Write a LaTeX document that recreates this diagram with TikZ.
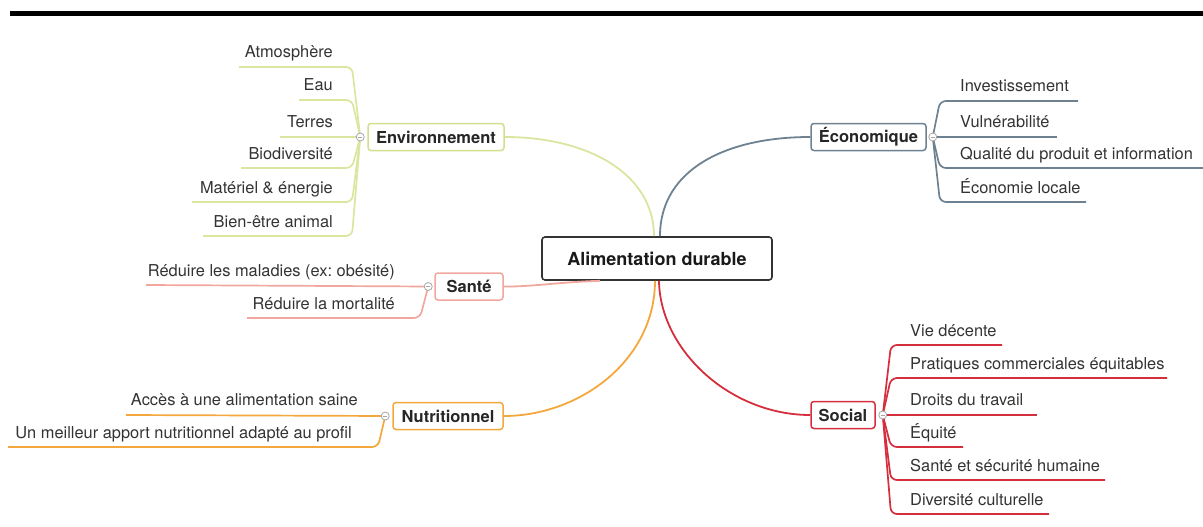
\documentclass[tikz,border=0pt]{standalone}
\usepackage{fontspec}
\setmainfont{TeX Gyre Heros}
\frenchspacing
\definecolor{envc}{HTML}{DAE6A0}
\definecolor{envb}{HTML}{D0E08C}
\definecolor{ecoc}{HTML}{6E8190}
\definecolor{sanc}{HTML}{F2A79E}
\definecolor{nutc}{HTML}{F4A73C}
\definecolor{socc}{HTML}{D52E3C}
\definecolor{txt}{HTML}{333333}
\begin{document}
\begin{tikzpicture}[x=1pt,y=-1pt,
  topic/.style={draw, rounded corners=3pt, line width=1.5pt, fill=white, inner sep=0pt,
    minimum height=27pt, font=\fontsize{16.5}{20}\selectfont\bfseries, text=black!85},
  central/.style={draw=black!80, rounded corners=3pt, line width=1.6pt, fill=white, inner sep=0pt,
    minimum width=230pt, minimum height=43pt, font=\fontsize{18}{22}\selectfont\bfseries, text=black!90},
  sub/.style={font=\fontsize{16.4}{19}\selectfont, text=txt, inner sep=0pt},
  subL/.style={sub, anchor=base east},
  subR/.style={sub, anchor=base west},
  branch/.style={line width=1.7pt, rounded corners=6pt},
  conn/.style={line width=1.8pt},
  junc/.style={circle, draw=gray!70, fill=white, line width=0.8pt, minimum size=8pt, inner sep=0pt,
    path picture={\draw[gray!70, line width=0.8pt] ([xshift=-2.2pt]path picture bounding box.center) -- ([xshift=2.2pt]path picture bounding box.center);}}
]
\useasboundingbox (0,0) rectangle (1203,527);
% top bar
\fill[black] (10,11) rectangle (1203,16);

% nodes
\node[central] (c) at (657,258.5) {Alimentation durable};
\node[topic, draw=envb, minimum width=136pt] (env) at (436,137) {Environnement};
\node[topic, draw=ecoc, minimum width=115pt] (eco) at (868.5,137) {Économique};
\node[topic, draw=sanc, minimum width=68pt] (san) at (469,286.5) {Santé};
\node[topic, draw=nutc, minimum width=110pt] (nut) at (448,416) {Nutritionnel};
\node[topic, draw=socc, minimum width=64pt] (soc) at (843,415) {Social};

% main connectors
\draw[conn, envc] (env.east) .. controls (590,137) and ([xshift=-3pt]c.north |- 0,175) .. ([xshift=-3pt]c.north);
\draw[conn, ecoc] ([xshift=3pt]c.north) .. controls ([xshift=3pt]c.north |- 0,170) and (725,137) .. (eco.west);
\draw[conn, sanc] ([xshift=-57pt]c.south) .. controls (560,282) and (530,287) .. (san.east);
\draw[conn, nutc] ([xshift=-2pt]c.south) .. controls ([xshift=-2pt]c.south |- 0,360) and (580,416) .. (nut.east);
\draw[conn, socc] ([xshift=2pt]c.south) .. controls ([xshift=3pt]c.south |- 0,350) and (730,415) .. (soc.west);

% junction points
\coordinate (envJ) at ([xshift=-7pt]env.west);
\coordinate (ecoJ) at ([xshift=6pt]eco.east);
\coordinate (sanJ) at ([xshift=-6pt]san.west);
\coordinate (nutJ) at ([xshift=-7pt]nut.west);
\coordinate (socJ) at ([xshift=7pt]soc.east);

% Environnement subtopics
\node[subL] (e1) at (333,58) {Atmosphère};
\node[subL] (e2) at (333,91) {Eau};
\node[subL] (e3) at (333,128) {Terres};
\node[subL] (e4) at (333,159) {Biodiversité};
\node[subL] (e5) at (333,193) {Matériel \& énergie};
\node[subL] (e6) at (333,227) {Bien-être animal};
\draw[branch, envc] (envJ) -- (352,67) -- (239,67);
\draw[branch, envc] (envJ) -- (352,100) -- (299,100);
\draw[branch, envc] (envJ) -- (280,137);
\draw[branch, envc] (envJ) -- (352,168) -- (241,168);
\draw[branch, envc] (envJ) -- (352,202) -- (192,202);
\draw[branch, envc] (envJ) -- (352,236) -- (203,236);

% Economique subtopics
\node[subR] (o1) at (960,92) {Investissement};
\node[subR] (o2) at (960,128) {Vulnérabilité};
\node[subR] (o3) at (960,159) {Qualité du produit et information};
\node[subR] (o4) at (960,193) {Économie locale};
\draw[branch, ecoc] (ecoJ) -- (940,101) -- (1078,101);
\draw[branch, ecoc] (ecoJ) -- (1057,137);
\draw[branch, ecoc] (ecoJ) -- (940,168) -- (1203,168);
\draw[branch, ecoc] (ecoJ) -- (940,202) -- (1086,202);

% Sante subtopics
\node[subL] (s1) at (395,276) {Réduire les maladies (ex: obésité)};
\node[subL] (s2) at (395,309) {Réduire la mortalité};
\draw[branch, sanc] (sanJ) -- (146,285);
\draw[branch, sanc] (sanJ) -- (420,318) -- (247,318);

% Nutritionnel subtopics
\node[subL] (n1) at (358,405) {Accès à une alimentation saine};
\node[subL] (n2) at (352,438) {Un meilleur apport nutritionnel adapté au profil};
\draw[branch, nutc] (nutJ) -- (126,415);
\draw[branch, nutc] (nutJ) -- (378,447) -- (8,447);

% Social subtopics
\node[subR] (r1) at (910,336) {Vie décente};
\node[subR] (r2) at (910,369) {Pratiques commerciales équitables};
\node[subR] (r3) at (910,405) {Droits du travail};
\node[subR] (r4) at (910,438) {Équité};
\node[subR] (r5) at (910,471) {Santé et sécurité humaine};
\node[subR] (r6) at (910,505) {Diversité culturelle};
\draw[branch, socc] (socJ) -- (891,345) -- (1002,345);
\draw[branch, socc] (socJ) -- (891,378) -- (1167,378);
\draw[branch, socc] (socJ) -- (1037,415);
\draw[branch, socc] (socJ) -- (891,447) -- (963,447);
\draw[branch, socc] (socJ) -- (891,480) -- (1105,480);
\draw[branch, socc] (socJ) -- (891,514) -- (1049,514);

% junction markers
\node[junc] (envK) at (envJ) {};
\node[junc] (ecoK) at (ecoJ) {};
\node[junc] (sanK) at (sanJ) {};
\node[junc] (nutK) at (nutJ) {};
\node[junc] (socK) at (socJ) {};
\end{tikzpicture}
\end{document}
